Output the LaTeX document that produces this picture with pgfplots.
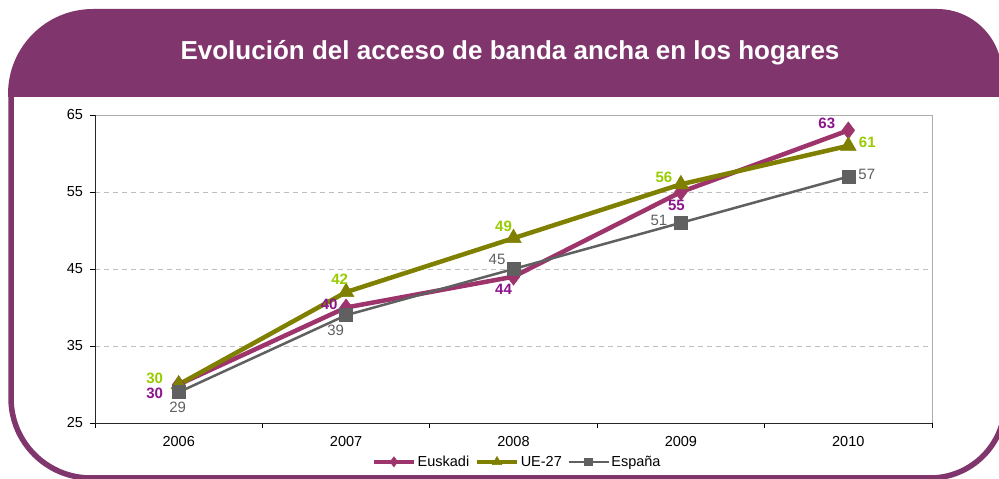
\documentclass[border=0pt]{standalone}
\usepackage{pgfplots}
\pgfplotsset{compat=1.18}
\usepackage{pgfplotstable}
\usepackage{fontspec}
\setmainfont{Liberation Sans}
\definecolor{hdr}{RGB}{128,53,108}
\definecolor{eusk}{RGB}{158,52,108}
\definecolor{euskl}{RGB}{140,20,140}
\definecolor{ue}{RGB}{128,128,0}
\definecolor{uel}{RGB}{153,204,0}
\definecolor{esp}{RGB}{96,96,96}
\definecolor{gridc}{RGB}{190,190,190}

\pgfplotstableread{
x y dx dy
0 30 -24 -8.5
1 40 -17 3.5
2 44 -10 -12.5
3 55 -4.5 -13
4 63 -21.5 7.5
}\euskadi
\pgfplotstableread{
x y dx dy
0 30 -24 6.5
1 42 -6.5 13
2 49 -10 12
3 56 -17 7
4 61 19 3
}\ueveintisiete
\pgfplotstableread{
x y dx dy
0 29 -1 -15
1 39 -10.5 -15
2 45 -16.5 10
3 51 -22 2
4 57 18.5 2.5
}\espana

\begin{document}
\begin{tikzpicture}[x=1pt,y=1pt]
\path[use as bounding box] (0,0) rectangle (999,479);
\clip (0,0) rectangle (999,479);
\fill[white] (0,0) rectangle (999,479);
% header
\fill[hdr] (8,382) -- (8,385) arc[start angle=180, end angle=90, radius=85] -- (937,470) arc[start angle=90, end angle=0, radius=65] -- (1002,382) -- cycle;
% frame
\draw[hdr, line width=5.5pt] (11,386) -- (11,81) arc[start angle=180, end angle=270, radius=80] -- (930,1) arc[start angle=270, end angle=360, radius=75] -- (1005,386);
\node[text=white, font=\fontsize{26}{30}\selectfont\bfseries] at (510,426) {Evolución del acceso de banda ancha en los hogares};

\begin{axis}[
  at={(95pt,56pt)}, anchor=south west,
  scale only axis, width=837pt, height=308pt,
  xmin=-0.5, xmax=4.5, ymin=25, ymax=65,
  clip=false,
  /pgf/number format/assume math mode=true,
  axis line style={draw=gray!65, line width=0.8pt},
  ytick={25,35,45,55,65},
  xtick={0,1,2,3,4},
  xticklabels={2006,2007,2008,2009,2010},
  tick align=outside,
  xtick pos=bottom, ytick pos=left,
  major tick length=5pt,
  major x tick style={draw=none},
  ytick style={black, line width=0.8pt},
  extra x ticks={-0.5,0.5,1.5,2.5,3.5,4.5},
  extra x tick labels={},
  extra x tick style={grid=none, major x tick style={draw=black, line width=0.8pt}},
  ymajorgrids,
  grid style={gridc, dash pattern=on 5pt off 4pt, line width=0.7pt},
  tick label style={font=\fontsize{14.5}{16}\selectfont},
  yticklabel style={xshift=-3.5pt},
  xticklabel style={yshift=-5pt},
  legend columns=-1,
  legend style={draw=none, fill=none, at={(0.504,-0.126)}, anchor=center,
    font=\fontsize{14.5}{16}\selectfont,
    nodes={inner sep=1.5pt},
    /tikz/every even column/.append style={column sep=4pt}},
  legend image code/.code={\draw[mark repeat=2,mark phase=2,#1,every mark/.append style={scale=0.6}] plot coordinates {(0pt,0pt) (20pt,0pt) (40pt,0pt)};},
  nodes near coords={\pgfmathprintnumber[fixed,precision=0]{\pgfplotspointmeta}},
  visualization depends on={\thisrow{dx} \as \dx},
  visualization depends on={\thisrow{dy} \as \dy},
]
\draw[black!85, line width=0.8pt] (rel axis cs:0,1) -- (rel axis cs:0,0) -- (rel axis cs:1,0);
\addplot[eusk, line width=4.5pt, mark=diamond*, mark size=8.5pt, mark options={solid, line width=0.5pt},
  every node near coord/.append style={anchor=center, xshift=\dx pt, yshift=\dy pt, text=euskl, font=\fontsize{15}{17}\selectfont\bfseries}]
  table[x=x,y=y] {\euskadi};
\addlegendentry{Euskadi}
\addplot[ue, line width=4.5pt, mark=triangle*, mark size=9pt, mark options={solid, line width=0.5pt},
  every node near coord/.append style={anchor=center, xshift=\dx pt, yshift=\dy pt, text=uel, font=\fontsize{15}{17}\selectfont\bfseries}]
  table[x=x,y=y] {\ueveintisiete};
\addlegendentry{UE-27}
\addplot[esp, line width=2.5pt, mark=square*, mark size=6.5pt, mark options={solid, line width=0.5pt},
  every node near coord/.append style={anchor=center, xshift=\dx pt, yshift=\dy pt, text=esp, font=\fontsize{15}{17}\selectfont}]
  table[x=x,y=y] {\espana};
\addlegendentry{España}
\end{axis}
\end{tikzpicture}
\end{document}
